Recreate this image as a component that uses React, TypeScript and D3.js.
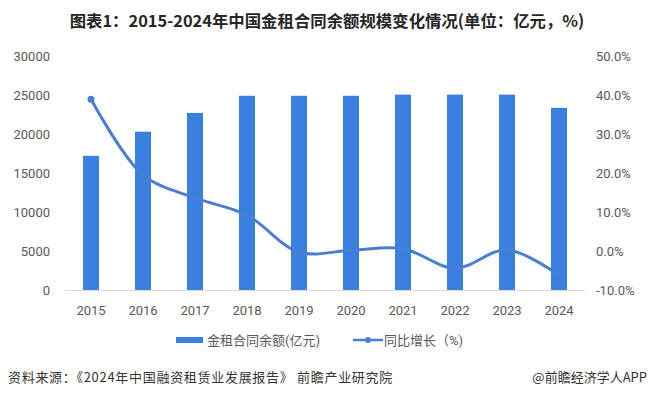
import * as d3 from 'd3'

const years = ['2015', '2016', '2017', '2018', '2019', '2020', '2021', '2022', '2023', '2024']
const balance = [17200, 20300, 22700, 24900, 24900, 24900, 25050, 25050, 25050, 23350]
const growth = [38.9, 19.5, 13.6, 9.2, -0.3, 0.2, 0.6, -4.4, 0.3, -6.2]
const leftTicks = [0, 5000, 10000, 15000, 20000, 25000, 30000]
const rightTicks = [-10, 0, 10, 20, 30, 40, 50]

const W = 656
const H = 398
const plot = { left: 65, right: 585, top: 56, bottom: 290 }
const barColor = '#3a80e0'
const lineColor = '#4a7ed2'
const tickColor = '#595959'
const font = 'Roboto, "Noto Sans CJK SC", sans-serif'
const cjk = '"Noto Sans CJK SC", sans-serif'

export default function App() {
  const x = d3.scaleBand().domain(years).range([plot.left, plot.right])
  const yL = d3.scaleLinear().domain([0, 30000]).range([plot.bottom, plot.top])
  const yR = d3.scaleLinear().domain([-10, 50]).range([plot.bottom, plot.top])
  const barW = 16
  const cx = (yr: string) => (x(yr) || 0) + x.bandwidth() / 2

  const line = d3
    .line<number>()
    .x((_, i) => cx(years[i]))
    .y((d) => yR(d))
    .curve(d3.curveCatmullRom.alpha(0.5))

  return (
    <svg width={W} height={H} style={{ position: 'absolute', left: 0, top: 0, background: '#fff' }}>
      <rect width={W} height={H} fill="#fff" />
      {/* title */}
      <text x={327} y={27} textAnchor="middle" fontSize={16.4} fontWeight="bold" fill="#262626" fontFamily={cjk}>
        图表1：2015-2024年中国金租合同余额规模变化情况(单位：亿元，%)
      </text>

      {/* left axis */}
      {leftTicks.map((t) => (
        <text key={'l' + t} x={50} y={yL(t) + 5} textAnchor="end" fontSize={13} fill={tickColor} fontFamily={font}>
          {t}
        </text>
      ))}
      {/* right axis */}
      {rightTicks.map((t) => (
        <text key={'r' + t} x={596} y={yR(t) + 5} textAnchor="start" fontSize={13} fill={tickColor} fontFamily={font}>
          {t.toFixed(1) + '%'}
        </text>
      ))}

      {/* bars */}
      {balance.map((v, i) => (
        <rect key={years[i]} x={cx(years[i]) - barW / 2} y={yL(v)}
          width={barW} height={plot.bottom - yL(v)} fill={barColor} />
      ))}

      {/* x axis */}
      <line x1={plot.left} x2={plot.right} y1={plot.bottom + 0.5} y2={plot.bottom + 0.5} stroke="#d9d9d9" />
      {years.map((yr) => (
        <text key={'x' + yr} x={cx(yr)} y={315} textAnchor="middle" fontSize={13}
          fill={tickColor} fontFamily={font}>
          {yr}
        </text>
      ))}

      {/* growth line */}
      <path d={line(growth) || ''} fill="none" stroke={lineColor} strokeWidth={3} strokeLinecap="round" />
      <circle cx={cx(years[0])} cy={yR(growth[0])} r={3.5} fill={lineColor} />

      {/* legend */}
      <rect x={176} y={337} width={27} height={6} fill={barColor} />
      <text x={207} y={345} fontSize={13} fill={tickColor} fontFamily={font}>金租合同余额(亿元)</text>
      <line x1={353} x2={383} y1={340} y2={340} stroke={lineColor} strokeWidth={2.5} />
      <circle cx={368} cy={340} r={3} fill={lineColor} />
      <text x={384} y={345} fontSize={13} fill={tickColor} fontFamily={font}>同比增长（%)</text>

      {/* footer */}
      <text x={8} y={382} fontSize={13} letterSpacing={0.7} fill="#333" fontFamily={cjk}>
        资料来源：《2024年中国融资租赁业发展报告》 前瞻产业研究院
      </text>
      <text x={647} y={382} textAnchor="end" fontSize={13} fill="#333" fontFamily={cjk}>
        @前瞻经济学人APP
      </text>
    </svg>
  )
}
